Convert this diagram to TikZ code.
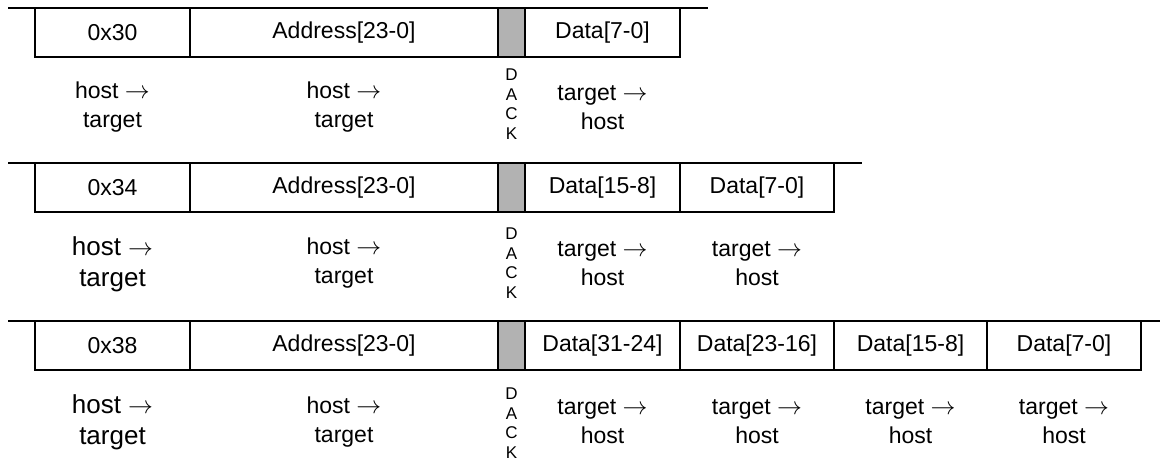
\documentclass[tikz,border=0pt]{standalone}
\usepackage{fontspec}
\setmainfont{Liberation Sans}
\begin{document}
\begin{tikzpicture}[x=1pt,y=-1pt,
  cell/.style={draw, line width=2pt, minimum height=49pt, inner sep=0pt, font=\fontsize{23}{26}\selectfont},
  ackcell/.style={cell, fill=black!30},
  lbl/.style={align=center, inner sep=0pt, font=\fontsize{23}{29}\selectfont},
  biglbl/.style={align=center, inner sep=0pt, font=\fontsize{26}{31}\selectfont},
  dack/.style={align=center, inner sep=0pt, font=\fontsize{17}{19.5}\selectfont},
  bus/.style={line width=2pt}]
\useasboundingbox (0,0) rectangle (1160,461);

% ---------- Row 1 ----------
\node[cell, minimum width=155pt] (r1a) at (112.5,32.5) {0x30};
\node[cell, minimum width=308pt] (r1b) at (344,32.5) {Address[23-0]};
\node[ackcell, minimum width=27pt] (r1k) at (511.5,32.5) {};
\node[cell, minimum width=155pt] (r1d1) at (602.5,32.5) {Data[7-0]};
\coordinate (r1s) at (8,8);
\coordinate (r1e) at (708,8);
\draw[bus] (r1s) -- (r1e);
\node[lbl] (r1la) at (112.5,107.5) {host $\rightarrow$\\target};
\node[lbl] (r1lb) at (344,107.5) {host $\rightarrow$\\target};
\node[dack] (r1lk) at (511.5,104) {D\\A\\C\\K};
\node[lbl] (r1ld1) at (602.5,107.5) {target $\rightarrow$\\host};

% ---------- Row 2 ----------
\node[cell, minimum width=155pt] (r2a) at (112.5,187.5) {0x34};
\node[cell, minimum width=308pt] (r2b) at (344,187.5) {Address[23-0]};
\node[ackcell, minimum width=27pt] (r2k) at (511.5,187.5) {};
\node[cell, minimum width=155pt] (r2d1) at (602.5,187.5) {Data[15-8]};
\node[cell, minimum width=154pt] (r2d2) at (757,187.5) {Data[7-0]};
\coordinate (r2s) at (8,163);
\coordinate (r2e) at (862,163);
\draw[bus] (r2s) -- (r2e);
\node[biglbl] (r2la) at (112.5,264) {host $\rightarrow$\\target};
\node[lbl] (r2lb) at (344,263.5) {host $\rightarrow$\\target};
\node[dack] (r2lk) at (511.5,263) {D\\A\\C\\K};
\node[lbl] (r2ld1) at (602.5,263.5) {target $\rightarrow$\\host};
\node[lbl] (r2ld2) at (757,263.5) {target $\rightarrow$\\host};

% ---------- Row 3 ----------
\node[cell, minimum width=155pt] (r3a) at (112.5,345.5) {0x38};
\node[cell, minimum width=308pt] (r3b) at (344,345.5) {Address[23-0]};
\node[ackcell, minimum width=27pt] (r3k) at (511.5,345.5) {};
\node[cell, minimum width=155pt] (r3d1) at (602.5,345.5) {Data[31-24]};
\node[cell, minimum width=154pt] (r3d2) at (757,345.5) {Data[23-16]};
\node[cell, minimum width=153pt] (r3d3) at (910.5,345.5) {Data[15-8]};
\node[cell, minimum width=154pt] (r3d4) at (1064,345.5) {Data[7-0]};
\coordinate (r3s) at (8,321);
\coordinate (r3e) at (1160,321);
\draw[bus] (r3s) -- (r3e);
\node[biglbl] (r3la) at (112.5,422) {host $\rightarrow$\\target};
\node[lbl] (r3lb) at (344,422) {host $\rightarrow$\\target};
\node[dack] (r3lk) at (511.5,423) {D\\A\\C\\K};
\node[lbl] (r3ld1) at (602.5,422) {target $\rightarrow$\\host};
\node[lbl] (r3ld2) at (757,422) {target $\rightarrow$\\host};
\node[lbl] (r3ld3) at (910.5,422) {target $\rightarrow$\\host};
\node[lbl] (r3ld4) at (1064,422) {target $\rightarrow$\\host};
\end{tikzpicture}
\end{document}
